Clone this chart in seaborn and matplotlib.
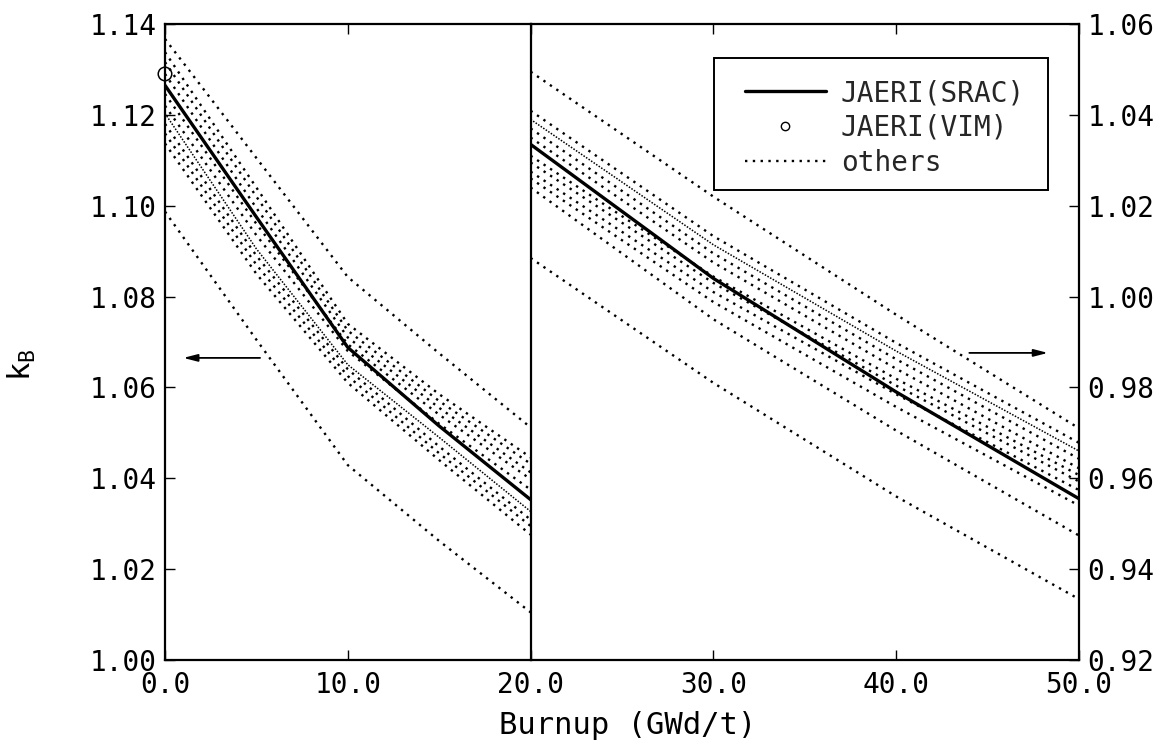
import matplotlib
matplotlib.use("Agg")
import matplotlib.pyplot as plt
from matplotlib.lines import Line2D
from matplotlib.patches import Rectangle
import seaborn as sns

# Burnup grid (GWd/t) of the two segments
burnup_low = [0.0, 5.0, 10.0, 15.0, 20.0]
burnup_high = [20.0, 30.0, 40.0, 50.0]

# JAERI (SRAC) multiplication factor k_B
srac_low = [1.1265, 1.0975, 1.0688, 1.0515, 1.0353]
srac_high = [1.0335, 1.0040, 0.9790, 0.9555]

# JAERI (VIM) Monte Carlo point at zero burnup
vim_burnup = [0.0]
vim_kb = [1.129]

# Other participants, 0-20 GWd/t (left scale)
others_low = [
    [1.1367, 1.1105, 1.0843, 1.0675, 1.0512],
    [1.1338, 1.1040, 1.0740, 1.0585, 1.0446],
    [1.1316, 1.1020, 1.0725, 1.0570, 1.0432],
    [1.1290, 1.0995, 1.0710, 1.0555, 1.0413],
    [1.1246, 1.0960, 1.0695, 1.0540, 1.0398],
    [1.1220, 1.0935, 1.0680, 1.0520, 1.0375],
    [1.1203, 1.0905, 1.0650, 1.0490, 1.0327],
    [1.1180, 1.0890, 1.0640, 1.0470, 1.0309],
    [1.1159, 1.0870, 1.0625, 1.0455, 1.0295],
    [1.1137, 1.0850, 1.0610, 1.0440, 1.0276],
    [1.0987, 1.0705, 1.0429, 1.0262, 1.0105],
]

# Other participants, 20-50 GWd/t (right scale)
others_high = [
    [1.0495, 1.0220, 0.9960, 0.9710],
    [1.0409, 1.0133, 0.9898, 0.9678],
    [1.0390, 1.0114, 0.9880, 0.9660],
    [1.0370, 1.0095, 0.9862, 0.9643],
    [1.0350, 1.0075, 0.9841, 0.9622],
    [1.0310, 1.0044, 0.9819, 0.9607],
    [1.0295, 1.0030, 0.9804, 0.9593],
    [1.0275, 1.0010, 0.9785, 0.9574],
    [1.0260, 0.9988, 0.9757, 0.9540],
    [1.0240, 0.9950, 0.9705, 0.9474],
    [1.0085, 0.9810, 0.9560, 0.9334],
]
# curves drawn with a fine, almost continuous dotting
dense_low = [6]
dense_high = [2]

left_ticks = [1.00, 1.02, 1.04, 1.06, 1.08, 1.10, 1.12, 1.14]
right_ticks = [0.92, 0.94, 0.96, 0.98, 1.00, 1.02, 1.04, 1.06]
low_xticks = [0.0, 10.0, 20.0]
high_xticks = [30.0, 40.0, 50.0]

sns.set_theme(style="white")
plt.rcParams["font.family"] = ["DejaVu Sans Mono", "DejaVu Sans"]
plt.rcParams["mathtext.default"] = "regular"

DOT = (0, (1.0, 2.3))
DENSE = (0, (1.0, 1.0))
DOT_LW = 1.7
SOLID_LW = 2.4

fig = plt.figure(figsize=(11.64, 7.46), dpi=100)
fig.patch.set_facecolor("white")
x0, x1 = 165 / 1164, 1079 / 1164
y0, y1 = 86 / 746, 722 / 746
w = x1 - x0
axL = fig.add_axes([x0, y0, w * 20 / 50, y1 - y0])
axR = fig.add_axes([x0 + w * 20 / 50, y0, w * 30 / 50, y1 - y0])

for i, ys in enumerate(others_low):
    sns.lineplot(x=burnup_low, y=ys, ax=axL, color="black",
                 linestyle=DENSE if i in dense_low else DOT,
                 linewidth=1.1 if i in dense_low else DOT_LW)
sns.lineplot(x=burnup_low, y=srac_low, ax=axL, color="black", linewidth=SOLID_LW)
sns.scatterplot(x=vim_burnup, y=vim_kb, ax=axL, marker="o", s=95,
                facecolor="none", edgecolor="black", linewidth=1.1, clip_on=False, zorder=5)

for i, ys in enumerate(others_high):
    sns.lineplot(x=burnup_high, y=ys, ax=axR, color="black",
                 linestyle=DENSE if i in dense_high else DOT,
                 linewidth=1.1 if i in dense_high else DOT_LW)
sns.lineplot(x=burnup_high, y=srac_high, ax=axR, color="black", linewidth=SOLID_LW)

# left panel: 0-20 GWd/t on the left scale
axL.set_xlim(0, 20)
axL.set_ylim(1.00, 1.14)
axL.set_xticks(low_xticks)
axL.set_xticklabels([f"{v:.1f}" for v in low_xticks])
axL.set_yticks(left_ticks)
axL.set_yticklabels([f"{v:.2f}" for v in left_ticks])
axL.tick_params(axis="both", direction="in", length=7, width=1.0, labelsize=20,
                colors="black", top=True, right=False, left=True, bottom=True)
axL.tick_params(axis="x", pad=8)
axL.tick_params(axis="y", pad=6)

# right panel: 20-50 GWd/t on the right scale
axR.set_xlim(20, 50)
axR.set_ylim(0.92, 1.06)
axR.set_xticks(high_xticks)
axR.set_xticklabels([f"{v:.1f}" for v in high_xticks])
axR.set_yticks(right_ticks)
axR.set_yticklabels([f"{v:.2f}" for v in right_ticks])
axR.yaxis.tick_right()
axR.tick_params(axis="both", direction="in", length=7, width=1.0, labelsize=20,
                colors="black", top=True, right=True, left=False, bottom=True)
axR.tick_params(axis="x", pad=8)
axR.tick_params(axis="y", pad=6)
axR.spines["left"].set_visible(False)

axL.set_facecolor("white")
axR.set_facecolor("none")
for ax in (axL, axR):
    ax.set_xlabel("")
    ax.set_ylabel("")
    for s in ax.spines.values():
        s.set_color("black")
        s.set_linewidth(1.6)
axL.spines["right"].set_zorder(10)

# arrows pointing to the scale each panel uses
arrow = dict(arrowstyle="-|>,head_length=0.7,head_width=0.18", color="black", lw=1.3,
             shrinkA=0, shrinkB=0)
axL.annotate("", xy=(1.0, 1.0665), xytext=(5.2, 1.0665), arrowprops=arrow)
axR.annotate("", xy=(48.3, 0.9876), xytext=(44.0, 0.9876), arrowprops=arrow)

# legend entries, with a plain rectangular frame around them
handles = [
    Line2D([], [], color="black", linewidth=SOLID_LW),
    Line2D([], [], color="black", linestyle="none", marker="o", markersize=6,
           markerfacecolor="none", markeredgewidth=1.0),
    Line2D([], [], color="black", linestyle=DOT, linewidth=DOT_LW),
]
leg = axR.legend(handles, ["JAERI(SRAC)", "JAERI(VIM)", "others"],
                 loc="upper left", bbox_to_anchor=(0.391, 0.9135),
                 frameon=False, fontsize=20, handlelength=2.9, handletextpad=0.55,
                 borderpad=0.0, labelspacing=0.25, borderaxespad=0)
axR.add_patch(Rectangle((0.3344, 0.739), 0.9435 - 0.3344, 0.9465 - 0.739,
                        transform=axR.transAxes, facecolor="white",
                        edgecolor="black", linewidth=1.4, zorder=4))
leg.set_zorder(6)

fig.text((x0 + x1) / 2 + 0.005, 0.028, "Burnup (GWd/t)", ha="center", va="center",
         fontsize=22, color="black")
fig.text(0.019, 0.511, r"$\mathregular{k_B}$", rotation=90, ha="center", va="center",
         fontsize=22, color="black")

fig.savefig("out.png", dpi=100, facecolor="white")
